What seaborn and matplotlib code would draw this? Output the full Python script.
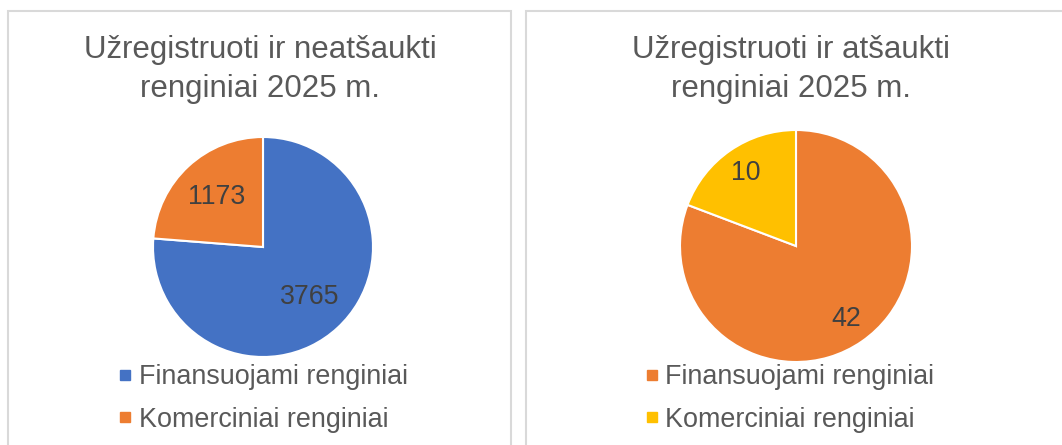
import matplotlib
matplotlib.use("Agg")
import matplotlib.pyplot as plt
import seaborn as sns
from matplotlib.patches import Rectangle
from matplotlib.lines import Line2D

sns.set_theme(style="white")
plt.rcParams['font.family'] = ['Liberation Sans', 'DejaVu Sans']

# ---- data ----
categories = ["Finansuojami renginiai", "Komerciniai renginiai"]
left_title = ["Užregistruoti ir neatšaukti", "renginiai 2025 m."]
left_values = [3765, 1173]
right_title = ["Užregistruoti ir atšaukti", "renginiai 2025 m."]
right_values = [42, 10]

left_colors = ["#4472C4", "#ED7D31"]
right_colors = ["#ED7D31", "#FFC000"]

W, H = 1062, 445
fig = plt.figure(figsize=(W / 100, H / 100), dpi=100)
fig.patch.set_facecolor("white")

def fx(px):
    return px / W

def fy(py):
    return 1 - py / H

# chart frames
border = "#D9D9D9"
fig.add_artist(Rectangle((fx(8), fy(460)), fx(511 - 8), (460 - 11) / H,
                         transform=fig.transFigure, fill=False, edgecolor=border, lw=1.5))
fig.add_artist(Rectangle((fx(526), fy(460)), fx(1080 - 526), (460 - 11) / H,
                         transform=fig.transFigure, fill=False, edgecolor=border, lw=1.5))

title_color = "#595959"
label_color = "#404040"

def draw(values, colors, title, cx, cy, r, tcx, pctd, lx):
    ax = fig.add_axes([fx(cx - r), fy(cy + r), fx(2 * r), 2 * r / H])
    total = sum(values)
    wedges, texts, autotexts = ax.pie(
        values, colors=colors, startangle=90, counterclock=False, radius=1,
        autopct=lambda p: f"{round(p * total / 100):d}", pctdistance=pctd,
        wedgeprops=dict(edgecolor="white", linewidth=1.5),
        textprops=dict(fontsize=19.3, color=label_color))
    ax.set_xlim(-1, 1)
    ax.set_ylim(-1, 1)
    ax.set_aspect("equal")
    ax.axis("off")
    fig.text(fx(tcx), fy(58), title[0], ha="center", va="baseline",
             fontsize=22.5, color=title_color)
    fig.text(fx(tcx), fy(97), title[1], ha="center", va="baseline",
             fontsize=22.5, color=title_color)
    handles = [Line2D([0], [0], marker="s", linestyle="none", markersize=7.9,
                      markerfacecolor=c, markeredgecolor=c) for c in colors]
    fig.legend(handles, categories, loc="upper left",
               bbox_to_anchor=(fx(lx), fy(364)), frameon=False,
               fontsize=19.4, labelcolor=title_color, handlelength=0.42,
               handletextpad=0.28, borderpad=0, borderaxespad=0,
               labelspacing=0.62)

draw(left_values, left_colors, left_title, 263, 247, 110, 260, 0.62, 119.75)
draw(right_values, right_colors, right_title, 796, 246, 116, 791, 0.76, 646.5)

fig.savefig("out.png", dpi=100, facecolor="white")
